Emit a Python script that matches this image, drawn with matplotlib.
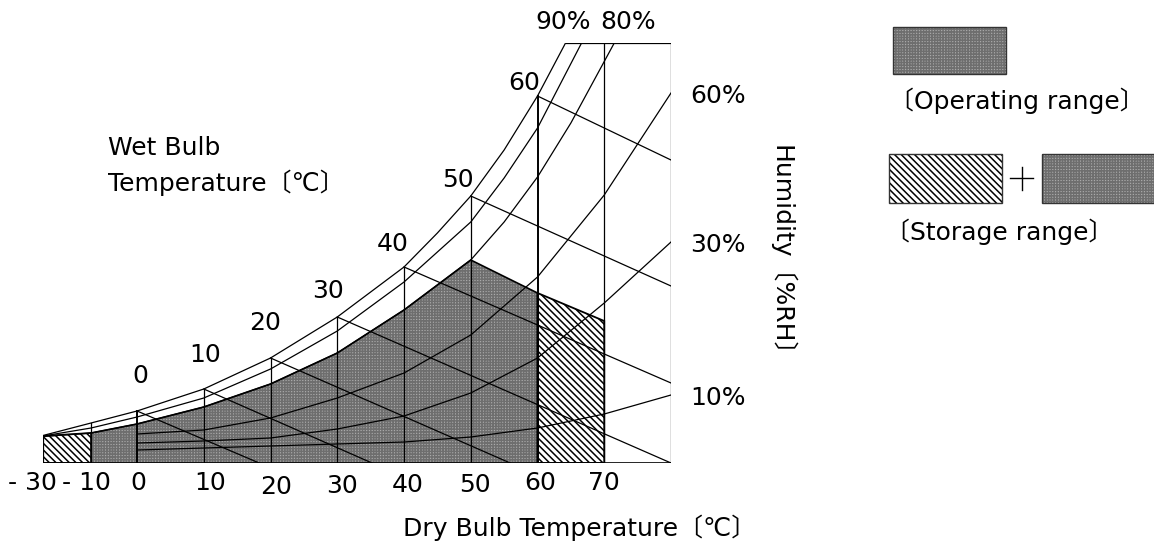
import numpy as np
import matplotlib
matplotlib.use("Agg")
import matplotlib.pyplot as plt
from matplotlib.patches import Polygon, Rectangle
from matplotlib.transforms import ScaledTranslation

# ---------------- data ----------------
# saturation curve (100 % RH) : dry bulb temperature -> chart height
sat_temp = [-30, -10, 0, 10, 20, 30, 40, 45, 50, 55, 60, 64.2]
sat_h = [27.5, 40, 52, 74, 105, 146, 196, 230, 267, 313, 367, 420]
# 90 % and 80 % RH curves
rh90_temp = [-30, -10, 0, 10, 20, 30, 40, 50, 55, 60, 66.6]
rh90_h = [27, 35, 46, 65, 94, 132, 181, 241, 285, 335, 420]
rh80_temp = [-30, -10, 0, 10, 20, 30, 40, 50, 55, 60, 65, 71.5]
rh80_h = [26.5, 30, 39, 56, 79, 110, 153, 203, 241, 286, 340, 420]
# low humidity curves (start at 0 degC, end on the right border)
low_temp = [0, 10, 20, 30, 40, 50, 60, 70, 80]
rh60_h = [29, 33, 45, 65, 90, 128, 186, 268, 370]
rh30_h = [20, 22, 25, 34, 47, 70, 105, 160, 221]
rh10_h = [13, 15, 17, 19, 21, 26, 35, 49, 68]
rh_right_labels = ["60%", "30%", "10%"]
rh_top_labels = ["90%", "80%"]

# wet bulb lines: start on the saturation curve, end point below/right
wb_temp = [0, 10, 20, 30, 40, 50, 60]
wb_end_temp = [18.3, 35.2, 55.9, 80, 80, 80, 80]
wb_end_h = [0, 0, 0, 0, 80, 177, 303]
wb_labels = ["0", "10", "20", "30", "40", "50", "60"]

# dry bulb grid lines
grid_temp = [-10, 0, 10, 20, 30, 40, 50, 60]
full_temp = [70, 80]
chart_top = 420

# ranges
op_temp = [-10, 50]            # operating range follows the 80 % curve here
op_corner_temp = [60]
op_corner_h = [170]
st_left_temp = [-30, -10]
st_left_h = [27, 30]
st_right_temp = [60, 70]
st_right_h = [170, 142]

xtick_temp = [-30, -10, 0, 10, 20, 30, 40, 50, 60, 70]
xtick_labels = ["- 30", "- 10", "0", "10", "20", "30", "40", "50", "60", "70"]

# ---------------- style ----------------
plt.rcParams["font.family"] = ["DejaVu Sans", "Noto Sans CJK JP"]
plt.rcParams["font.size"] = 18
plt.rcParams["hatch.linewidth"] = 1.1
LW = 0.9
OP_FACE = "#ababab"
OP_HATCH = "#6e6e6e"
OP_PATTERN = "++++++"
ST_PATTERN = "\\" * 5

W, H = 1154, 546
fig = plt.figure(figsize=(W / 100, H / 100), dpi=100)
fig.patch.set_facecolor("white")

# pixel overlay for legend and titles
lax = fig.add_axes([0, 0, 1, 1])
lax.set_xlim(0, W)
lax.set_ylim(H, 0)
lax.axis("off")
lax.patch.set_alpha(0)

x0, x1, ybase, ytop = 43, 671, 463, 43
ax = fig.add_axes([x0 / W, (H - ybase) / H, (x1 - x0) / W, (ybase - ytop) / H])
ax.patch.set_alpha(0)


def fwd(t):
    t = np.asarray(t, dtype=float)
    return np.where(t >= 0, t, np.where(t >= -10, t * 0.689, -6.89 + (t + 10) * 0.36))


def inv(p):
    p = np.asarray(p, dtype=float)
    return np.where(p >= 0, p, np.where(p >= -6.89, p / 0.689, (p + 6.89) / 0.36 - 10))


ax.set_xscale("function", functions=(fwd, inv))
ax.set_xlim(-30, 80)
ax.set_ylim(0, chart_top)
for s in ax.spines.values():
    s.set_visible(False)
ax.set_yticks([])
ax.set_xticks(xtick_temp)
ax.set_xticklabels(xtick_labels)
ax.tick_params(axis="x", length=0, pad=6)
ax.minorticks_off()
tick_dx = [-11, -5, 1, 6, 6, 5, 4, 4, 3, 0]
tick_dy = [0, 0, 0, 0, -4, -3, -2, -2, 0, 0]
for lab, dx, dy in zip(ax.get_xticklabels(), tick_dx, tick_dy):
    lab.set_transform(lab.get_transform() + ScaledTranslation(dx / 100, dy / 100, fig.dpi_scale_trans))

sat_map = dict(zip(sat_temp, sat_h))


def hatch_fill(xy, face, hatch, hcolor, z):
    ax.add_patch(Polygon(xy, closed=True, facecolor=face, edgecolor="none", zorder=z))
    ax.add_patch(Polygon(xy, closed=True, facecolor="none", edgecolor=hcolor,
                         hatch=hatch, linewidth=0, zorder=z + 0.1))


# operating range polygon
op_pts = [(op_temp[0], 0)]
for t, h in zip(rh80_temp, rh80_h):
    if op_temp[0] <= t <= op_temp[1]:
        op_pts.append((t, h))
for t, h in zip(op_corner_temp, op_corner_h):
    op_pts.append((t, h))
op_pts.append((op_corner_temp[-1], 0))
hatch_fill(op_pts, OP_FACE, OP_PATTERN, OP_HATCH, 1)

# storage ranges
stl = [(st_left_temp[0], 0)] + list(zip(st_left_temp, st_left_h)) + [(st_left_temp[-1], 0)]
str_ = [(st_right_temp[0], 0)] + list(zip(st_right_temp, st_right_h)) + [(st_right_temp[-1], 0)]
for pts in (stl, str_):
    hatch_fill(pts, "white", ST_PATTERN, "black", 1)
    ax.add_patch(Polygon(pts, closed=True, facecolor="none", edgecolor="black",
                         linewidth=1.3, zorder=3))
ax.plot([t for t, _ in op_pts[1:-1]] + [op_corner_temp[-1]],
        [h for _, h in op_pts[1:-1]] + [0], color="black", lw=1.2, zorder=3)

# humidity curves
for tt, hh in ((sat_temp, sat_h), (rh90_temp, rh90_h), (rh80_temp, rh80_h),
               (low_temp, rh60_h), (low_temp, rh30_h), (low_temp, rh10_h)):
    ax.plot(tt, hh, color="black", lw=LW, zorder=4, solid_joinstyle="round")

# wet bulb lines
for t, te, he in zip(wb_temp, wb_end_temp, wb_end_h):
    ax.plot([t, te], [sat_map[t], he], color="black", lw=LW, zorder=4)

# dry bulb verticals
for t in grid_temp:
    ax.plot([t, t], [0, sat_map[t]], color="black",
            lw=1.4 if t in (0, 60) else LW, zorder=4)
for t in full_temp:
    ax.plot([t, t], [0, chart_top], color="black", lw=LW, zorder=4)
ax.plot([-30, -30], [0, st_left_h[0]], color="black", lw=LW, zorder=4)
# baseline and top border
ax.plot([-30, 80], [0, 0], color="black", lw=1.2, zorder=4)
ax.plot([sat_temp[-1], 80], [chart_top, chart_top], color="black", lw=LW, zorder=4)

# wet bulb labels
wb_off = [(3, 35), (1, 34), (-5, 35), (-9, 26), (-11, 23), (-13, 16), (-13, 13)]
for t, lab, off in zip(wb_temp, wb_labels, wb_off):
    ax.annotate(lab, (t, sat_map[t]), xytext=off, textcoords="offset pixels",
                ha="center", va="center", zorder=5)

# RH labels
for lab, h in zip(rh_right_labels, (rh60_h[-1], rh30_h[-1], rh10_h[-1])):
    ax.annotate(lab, (80, h), xytext=(19, -3), textcoords="offset pixels",
                ha="left", va="center")
for lab, t, off in zip(rh_top_labels, (rh90_temp[-1], rh80_temp[-1]), ((-18, 21), (14, 21))):
    ax.annotate(lab, (t, chart_top), xytext=off, textcoords="offset pixels",
                ha="center", va="center", annotation_clip=False)

# titles
lax.text(108, 148, "Wet Bulb", ha="left", va="center")
lax.text(108, 183, "Temperature〔℃〕", ha="left", va="center")
lax.text(580, 528, "Dry Bulb Temperature〔℃〕", ha="center", va="center")
lax.text(782, 257, "Humidity〔%RH〕", ha="center", va="center", rotation=-90)

# legend


def legend_box(x, y, w, h, kind):
    if kind == "op":
        lax.add_patch(Rectangle((x, y), w, h, facecolor=OP_FACE, edgecolor="none"))
        lax.add_patch(Rectangle((x, y), w, h, facecolor="none", edgecolor=OP_HATCH,
                                hatch=OP_PATTERN, linewidth=0))
    else:
        lax.add_patch(Rectangle((x, y), w, h, facecolor="white", edgecolor="black",
                                hatch=ST_PATTERN, linewidth=0))
    lax.add_patch(Rectangle((x, y), w, h, facecolor="none", edgecolor="#333333", linewidth=1.0))


legend_box(893, 27, 113, 47, "op")
lax.text(889, 101, "〔Operating range〕", ha="left", va="center")
legend_box(889, 154, 113, 49, "st")
lax.plot([1010, 1033], [178, 178], color="black", lw=1.0)
lax.plot([1021.5, 1021.5], [167, 190], color="black", lw=1.0)
legend_box(1042, 154, 120, 49, "op")
lax.text(885, 232, "〔Storage range〕", ha="left", va="center")

fig.savefig("out.png", dpi=100, facecolor="white")
